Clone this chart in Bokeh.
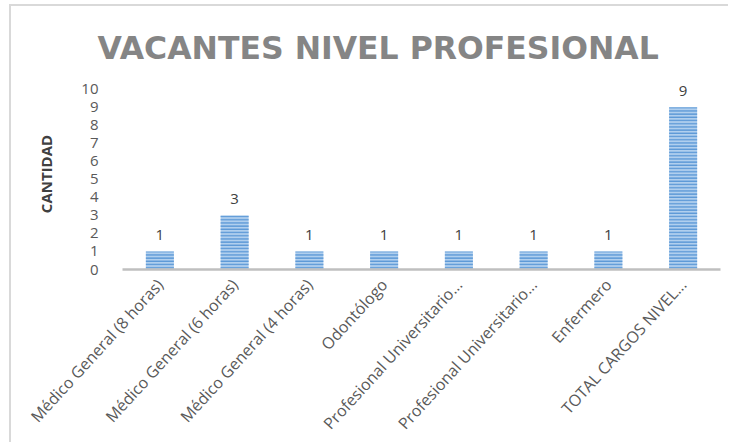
from bokeh.plotting import figure
from bokeh.models import ColumnDataSource, Range1d, FixedTicker
from bokeh.core.properties import value
from bokeh.embed import file_html
from bokeh.resources import INLINE
import math

categories = ["Médico General (8 horas)", "Médico General (6 horas)", "Médico General (4 horas)",
              "Odontólogo", "Profesional Universitario...", "Profesional Universitario...",
              "Enfermero", "TOTAL CARGOS NIVEL..."]
values = [1, 3, 1, 1, 1, 1, 1, 9]
y_ticks = [0, 1, 2, 3, 4, 5, 6, 7, 8, 9, 10]

xs = list(range(len(categories)))
src = ColumnDataSource(dict(x=xs, y=values, lbl=[str(v) for v in values]))

p = figure(width=719, height=438, output_backend="svg", toolbar_location=None,
           x_range=Range1d(-0.5, len(categories) - 0.5), y_range=Range1d(0, 10.6),
           min_border_left=111, min_border_right=10, min_border_top=72, min_border_bottom=174)
p.margin = (4, 0, 0, 9)
p.styles = {"border-left": "2px solid #D9D9D9", "border-top": "2px solid #D9D9D9"}
p.outline_line_color = None
p.grid.visible = False

p.title.text = "VACANTES NIVEL PROFESIONAL"
p.title.align = "left"
p.title.offset = -25
p.title.standoff = 25
p.title.text_font = "DejaVu Sans"
p.title.text_font_style = "bold"
p.title.text_font_size = "31.5px"
p.title.text_color = "#858585"

p.vbar(x="x", top="y", width=0.375, source=src, fill_color="#B0CFEE", line_color=None,
       hatch_pattern="horizontal_line", hatch_color="#5B98D6", hatch_scale=3.2, hatch_weight=1.5)

p.text(x="x", y="y", text="lbl", source=src, y_offset=-11, text_align="center",
       text_baseline="bottom", text_font=value("Open Sans"), text_font_size="15px",
       text_color="#404040")

ya = p.yaxis[0]
ya.ticker = FixedTicker(ticks=y_ticks)
ya.axis_line_color = None
ya.major_tick_line_color = None
ya.minor_tick_line_color = None
ya.major_label_text_font = "Open Sans"
ya.major_label_text_font_size = "15px"
ya.major_label_text_color = "#595959"
ya.major_label_standoff = 18
ya.axis_label = "CANTIDAD"
ya.axis_label_text_font = "Open Sans"
ya.axis_label_text_font_style = "bold"
ya.axis_label_text_font_size = "15px"
ya.axis_label_text_color = "#404040"
ya.axis_label_standoff = 22

xa = p.xaxis[0]
xa.ticker = FixedTicker(ticks=xs)
xa.major_label_overrides = {i: c for i, c in zip(xs, categories)}
xa.major_label_orientation = 0.83
xa.axis_line_color = "#BFBFBF"
xa.axis_line_width = 2.5
xa.major_tick_line_color = None
xa.minor_tick_line_color = None
xa.major_label_text_font = "Open Sans"
xa.major_label_text_font_size = "16px"
xa.major_label_text_color = "#595959"
xa.major_label_standoff = 6

open("out.html", "w").write(file_html(p, INLINE))
